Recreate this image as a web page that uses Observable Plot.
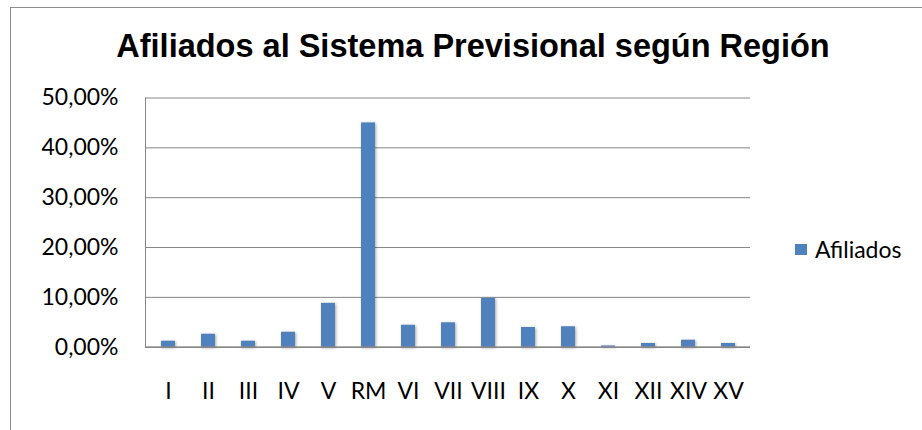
<!DOCTYPE html>
<html><head><meta charset="utf-8">
<script src="https://cdn.jsdelivr.net/npm/d3@7"></script>
<script src="https://cdn.jsdelivr.net/npm/@observablehq/plot@0.6"></script>
<style>
body{margin:0;background:#fff;}
#wrap{position:relative;width:922px;height:430px;overflow:hidden;font-family:Lato,sans-serif;background:#fff;}
#frame{position:absolute;left:10px;top:7px;width:1000px;height:1000px;border:1px solid #8c8c8c;}
#title{position:absolute;left:0;top:30px;width:946px;text-align:center;font:bold 32.5px "Liberation Sans",Arial,sans-serif;line-height:32px;color:#000;white-space:nowrap;}
#chart{position:absolute;left:0;top:70px;}
#chart g[aria-label="bar"] rect{filter:drop-shadow(1px 1px 1.5px rgba(0,0,0,0.35));}
#legend{position:absolute;left:795px;top:235px;font:23px Lato,sans-serif;color:#000;display:flex;align-items:center;}
#legend span.sw{display:inline-block;width:12px;height:11px;background:#4F81BD;margin-right:8px;}
</style></head>
<body>
<div id="wrap">
  <div id="frame"></div>
  <div id="title">Afiliados al Sistema Previsional según Región</div>
  <div id="chart"></div>
  <div id="legend"><span class="sw"></span><span>Afiliados</span></div>
</div>
<script>
const regiones = ["I","II","III","IV","V","RM","VI","VII","VIII","IX","X","XI","XII","XIV","XV"];
const afiliados = [1.2,2.6,1.2,3.0,8.8,45.0,4.4,4.9,9.8,3.95,4.1,0.25,0.75,1.4,0.75];
const yTicks = [0,10,20,30,40,50];
const serie = "Afiliados";

const data = regiones.map((r,i)=>({region:r, valor:afiliados[i], serie}));
const fmt = d => d.toFixed(2).replace(".", ",") + "%";

const chart = Plot.plot({
  width: 922,
  height: 360,
  marginLeft: 145,
  marginRight: 172,
  marginTop: 27.5,
  marginBottom: 83.3,
  style: {fontFamily: "Lato, sans-serif", fontSize: "23px", color: "#000", background: "transparent"},
  x: {domain: regiones, paddingInner: 0.65, paddingOuter: 0.325, label: null},
  y: {domain: [0, 50], label: null},
  marks: [
    Plot.gridY(yTicks, {stroke: "#868686", strokeOpacity: 1}),
    Plot.frame({anchor: "left", stroke: "#868686"}),
    Plot.barY(data, {x: "region", y: "valor", fill: "#4F81BD"}),
    Plot.ruleY([0], {stroke: "#868686", strokeWidth: 1.5}),
    Plot.axisY(yTicks, {tickSize: 0, tickPadding: 27, tickFormat: fmt, label: null, fill: "#000"}),
    Plot.axisX({tickSize: 0, tickPadding: 35, label: null, fill: "#000"})
  ]
});
document.getElementById("chart").appendChild(chart);
</script>
</body></html>
